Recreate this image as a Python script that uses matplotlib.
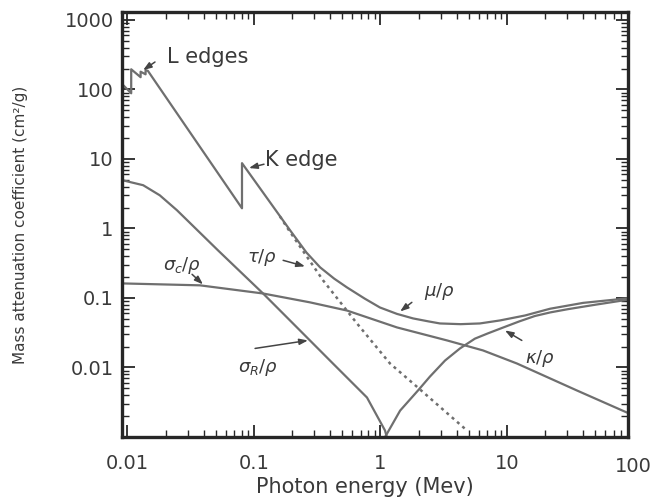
import matplotlib
matplotlib.use("Agg")
import matplotlib.pyplot as plt
from matplotlib.ticker import LogLocator, NullFormatter, FixedLocator, FixedFormatter

# ---- data (energy in MeV, coefficient in cm^2/g) ----
total_E = [0.00905, 0.0107, 0.0107, 0.0127, 0.0127, 0.0139, 0.0139, 0.0145,
           0.0804, 0.0804, 0.1, 0.193, 0.26, 0.333, 0.43, 0.543, 0.75, 0.99,
           1.35, 1.81, 2.4, 2.95, 4.3, 6.1, 8.8, 13.9, 21.9, 40.0, 88.7, 100.0]
total_mu = [120, 88, 195, 150, 180, 165, 190, 185,
            1.95, 8.7, 5.0, 0.94, 0.45, 0.276, 0.19, 0.142, 0.098, 0.073,
            0.059, 0.0508, 0.046, 0.043, 0.042, 0.043, 0.0475, 0.056, 0.070, 0.085, 0.0986, 0.101]

tau_E = [0.16, 0.189, 0.351, 0.652, 1.19, 1.81, 4.83]
tau_mu = [1.5, 0.94, 0.18, 0.043, 0.0114, 0.0059, 0.00124]

compton_E = [0.00905, 0.0374, 0.118, 0.277, 0.543, 1.35, 3.36, 6.46, 12.0, 35.7, 88.7]
compton_mu = [0.162, 0.152, 0.116, 0.0865, 0.066, 0.0377, 0.0245, 0.0176, 0.0114, 0.00467, 0.00225]

rayleigh_E = [0.00905, 0.0133, 0.018, 0.0246, 0.0519, 0.118, 0.231, 0.421, 0.782, 1.086, 1.13]
rayleigh_mu = [4.96, 4.19, 3.0, 1.83, 0.485, 0.116, 0.0341, 0.0114, 0.0037, 0.00124, 0.00095]

pair_E = [1.07, 1.43, 1.98, 2.46, 3.24, 4.25, 5.58, 7.08, 9.12, 12.5, 16.6, 22.0, 30.3, 50.0, 88.7]
pair_mu = [0.00095, 0.0024, 0.00467, 0.0074, 0.0126, 0.0188, 0.026, 0.031, 0.037, 0.046, 0.055, 0.062, 0.069, 0.08, 0.094]

x_ticks = [0.01, 0.1, 1, 10]
x_ticklabels = ["0.01", "0.1", "1", "10"]
y_ticks = [0.01, 0.1, 1, 10, 100, 1000]
y_ticklabels = ["0.01", "0.1", "1", "10", "100", "1000"]

LINE = "#6f6f6f"
TEXT = "#3a3a3a"
SPINE = "#262626"

fig = plt.figure(figsize=(6.7, 5.0), dpi=100)
ax = fig.add_axes([122/670, 1-437/500, (628-122)/670, (437-12)/500])

ax.set_xscale("log")
ax.set_yscale("log")
ax.set_xlim(0.00905, 90.5)
ax.set_ylim(0.001, 1300)

lw = 1.6
ax.plot(total_E, total_mu, color=LINE, lw=lw)
ax.plot(tau_E, tau_mu, color=LINE, lw=1.8, linestyle=(0, (1.2, 1.6)))
ax.plot(compton_E, compton_mu, color=LINE, lw=lw)
ax.plot(rayleigh_E, rayleigh_mu, color=LINE, lw=lw)
ax.plot(pair_E, pair_mu, color=LINE, lw=lw)

# axes styling
for s in ax.spines.values():
    s.set_linewidth(2.4)
    s.set_color(SPINE)

ax.xaxis.set_major_locator(FixedLocator(x_ticks))
ax.xaxis.set_major_formatter(FixedFormatter(x_ticklabels))
ax.xaxis.set_minor_locator(LogLocator(base=10, subs=range(2, 10)))
ax.xaxis.set_minor_formatter(NullFormatter())
ax.yaxis.set_major_locator(FixedLocator(y_ticks))
ax.yaxis.set_major_formatter(FixedFormatter(y_ticklabels))
ax.yaxis.set_minor_locator(LogLocator(base=10, subs=range(2, 10)))
ax.yaxis.set_minor_formatter(NullFormatter())

ax.tick_params(which="both", direction="in", top=True, right=True, color=SPINE)
ax.tick_params(which="major", length=9, width=1.3)
ax.tick_params(which="minor", length=5, width=1.0)
ax.tick_params(axis="x", which="major", pad=12, labelsize=14, labelcolor=TEXT)
ax.tick_params(axis="y", which="major", pad=6, labelsize=14, labelcolor=TEXT)

# "100" label sits just beyond the right spine in the reference
ax.text(100, -0.069, "100", transform=ax.get_xaxis_transform(), ha="center", va="center",
        fontsize=14, color=TEXT, clip_on=False)

ax.set_xlabel("Photon energy (Mev)", fontsize=15, color=TEXT, va="center")
ax.xaxis.set_label_coords(0.48, -0.117)
ax.set_ylabel("Mass attenuation coefficient (cm²/g)", fontsize=11, color=TEXT)
ax.yaxis.set_label_coords(-0.186, 0.5)

# annotations
arrow = dict(arrowstyle="-|>,head_length=0.5,head_width=0.18", color="#444444", lw=1.1,
             shrinkA=0, shrinkB=0)
ax.text(0.0433, 293, "L edges", fontsize=15, color=TEXT, ha="center", va="center")
ax.annotate("", xy=(0.0133, 190), xytext=(0.0165, 248), arrowprops=arrow)
ax.text(0.235, 9.6, "K edge", fontsize=15, color=TEXT, ha="center", va="center")
ax.annotate("", xy=(0.0913, 7.4), xytext=(0.12, 8.4), arrowprops=arrow)

ax.text(0.116, 0.385, r"$\tau/\rho$", fontsize=13, color=TEXT, ha="center", va="center")
ax.annotate("", xy=(0.253, 0.285), xytext=(0.17, 0.348), arrowprops=arrow)
ax.text(0.027, 0.295, r"$\sigma_c/\rho$", fontsize=13, color=TEXT, ha="center", va="center")
ax.annotate("", xy=(0.0395, 0.157), xytext=(0.0324, 0.219), arrowprops=arrow)
ax.text(2.95, 0.124, r"$\mu/\rho$", fontsize=13, color=TEXT, ha="center", va="center")
ax.annotate("", xy=(1.43, 0.064), xytext=(1.77, 0.0865), arrowprops=arrow)
ax.text(18.2, 0.0135, r"$\kappa/\rho$", fontsize=13, color=TEXT, ha="center", va="center")
ax.annotate("", xy=(9.64, 0.0341), xytext=(13.1, 0.0245), arrowprops=arrow)
ax.text(0.108, 0.01, r"$\sigma_R/\rho$", fontsize=13, color=TEXT, ha="center", va="center")
ax.annotate("", xy=(0.267, 0.0245), xytext=(0.102, 0.0188), arrowprops=arrow)

fig.savefig("out.png", dpi=100)
